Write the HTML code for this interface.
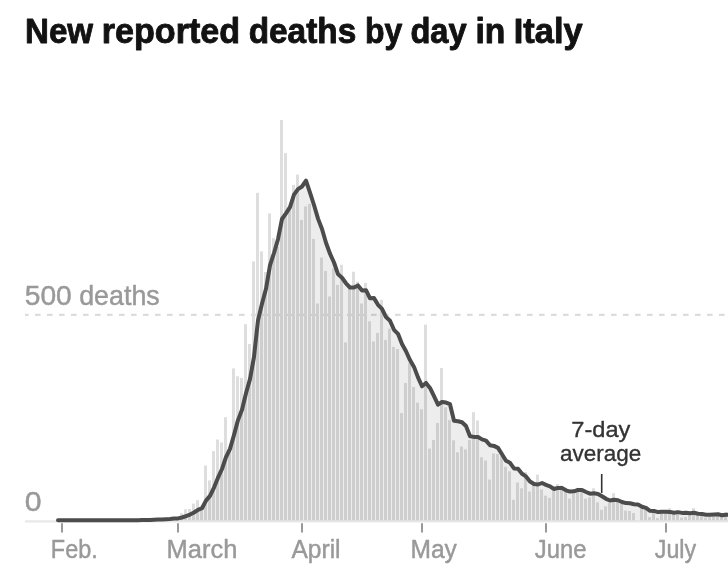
<!DOCTYPE html>
<html><head><meta charset="utf-8"><title>New reported deaths by day in Italy</title>
<style>
html,body{margin:0;padding:0;background:#fff;}
body{width:728px;height:582px;overflow:hidden;position:relative;}
svg{position:absolute;left:0;top:0;display:block;}
svg text{font-family:"Liberation Sans",Arial,sans-serif;white-space:pre;}
</style></head><body>
<svg width="728" height="582" viewBox="0 0 728 582">
<line x1="25" y1="521.4" x2="728" y2="521.4" stroke="#e8e8e8" stroke-width="2.2"/>
<line x1="25" y1="314.8" x2="728" y2="314.8" stroke="#dcdcdc" stroke-width="2.2" stroke-dasharray="5.6 6.4" stroke-dashoffset="2"/>
<g fill="#dedede">
<rect x="140.0" y="520.1" width="3" height="0.4"/>
<rect x="144.0" y="520.1" width="3" height="0.4"/>
<rect x="148.0" y="520.1" width="3" height="0.4"/>
<rect x="152.0" y="518.8" width="3" height="1.7"/>
<rect x="156.0" y="519.3" width="3" height="1.2"/>
<rect x="160.0" y="519.7" width="3" height="0.8"/>
<rect x="164.0" y="518.4" width="3" height="2.1"/>
<rect x="168.0" y="518.8" width="3" height="1.7"/>
<rect x="172.0" y="517.2" width="3" height="3.3"/>
<rect x="176.0" y="518.4" width="3" height="2.1"/>
<rect x="180.0" y="513.1" width="3" height="7.4"/>
<rect x="184.0" y="509.3" width="3" height="11.2"/>
<rect x="188.0" y="508.9" width="3" height="11.6"/>
<rect x="192.0" y="503.6" width="3" height="16.9"/>
<rect x="196.0" y="500.2" width="3" height="20.3"/>
<rect x="200.0" y="505.6" width="3" height="14.9"/>
<rect x="204.0" y="465.5" width="3" height="55.0"/>
<rect x="208.0" y="480.4" width="3" height="40.1"/>
<rect x="212.0" y="451.1" width="3" height="69.4"/>
<rect x="216.0" y="439.5" width="3" height="81.0"/>
<rect x="220.0" y="442.4" width="3" height="78.1"/>
<rect x="224.0" y="417.2" width="3" height="103.3"/>
<rect x="228.0" y="448.2" width="3" height="72.3"/>
<rect x="232.0" y="368.4" width="3" height="152.1"/>
<rect x="236.0" y="376.3" width="3" height="144.2"/>
<rect x="240.0" y="377.9" width="3" height="142.6"/>
<rect x="244.0" y="324.2" width="3" height="196.3"/>
<rect x="248.0" y="344.0" width="3" height="176.5"/>
<rect x="252.0" y="261.4" width="3" height="259.1"/>
<rect x="256.0" y="192.8" width="3" height="327.7"/>
<rect x="260.0" y="251.4" width="3" height="269.1"/>
<rect x="264.0" y="272.1" width="3" height="248.4"/>
<rect x="268.0" y="213.4" width="3" height="307.1"/>
<rect x="272.0" y="238.2" width="3" height="282.3"/>
<rect x="276.0" y="246.9" width="3" height="273.6"/>
<rect x="280.0" y="120.0" width="3" height="400.5"/>
<rect x="284.0" y="153.1" width="3" height="367.4"/>
<rect x="288.0" y="208.0" width="3" height="312.5"/>
<rect x="292.0" y="184.9" width="3" height="335.6"/>
<rect x="296.0" y="174.6" width="3" height="345.9"/>
<rect x="300.0" y="220.0" width="3" height="300.5"/>
<rect x="304.0" y="206.4" width="3" height="314.1"/>
<rect x="308.0" y="203.9" width="3" height="316.6"/>
<rect x="312.0" y="239.0" width="3" height="281.5"/>
<rect x="316.0" y="303.5" width="3" height="217.0"/>
<rect x="320.0" y="257.6" width="3" height="262.9"/>
<rect x="324.0" y="270.9" width="3" height="249.6"/>
<rect x="328.0" y="296.5" width="3" height="224.0"/>
<rect x="332.0" y="268.4" width="3" height="252.1"/>
<rect x="336.0" y="284.9" width="3" height="235.6"/>
<rect x="340.0" y="264.7" width="3" height="255.8"/>
<rect x="344.0" y="342.4" width="3" height="178.1"/>
<rect x="348.0" y="286.6" width="3" height="233.9"/>
<rect x="352.0" y="271.7" width="3" height="248.8"/>
<rect x="356.0" y="281.6" width="3" height="238.9"/>
<rect x="360.0" y="303.5" width="3" height="217.0"/>
<rect x="364.0" y="282.9" width="3" height="237.6"/>
<rect x="368.0" y="321.3" width="3" height="199.2"/>
<rect x="372.0" y="341.5" width="3" height="179.0"/>
<rect x="376.0" y="332.9" width="3" height="187.6"/>
<rect x="380.0" y="299.8" width="3" height="220.7"/>
<rect x="384.0" y="339.9" width="3" height="180.6"/>
<rect x="388.0" y="328.7" width="3" height="191.8"/>
<rect x="392.0" y="346.9" width="3" height="173.6"/>
<rect x="396.0" y="349.0" width="3" height="171.5"/>
<rect x="400.0" y="413.0" width="3" height="107.5"/>
<rect x="404.0" y="382.9" width="3" height="137.6"/>
<rect x="408.0" y="362.6" width="3" height="157.9"/>
<rect x="412.0" y="387.0" width="3" height="133.5"/>
<rect x="416.0" y="402.7" width="3" height="117.8"/>
<rect x="420.0" y="409.3" width="3" height="111.2"/>
<rect x="424.0" y="324.6" width="3" height="195.9"/>
<rect x="428.0" y="448.6" width="3" height="71.9"/>
<rect x="432.0" y="439.9" width="3" height="80.6"/>
<rect x="436.0" y="423.0" width="3" height="97.5"/>
<rect x="440.0" y="368.0" width="3" height="152.5"/>
<rect x="444.0" y="407.3" width="3" height="113.2"/>
<rect x="448.0" y="420.1" width="3" height="100.4"/>
<rect x="452.0" y="440.3" width="3" height="80.2"/>
<rect x="456.0" y="452.3" width="3" height="68.2"/>
<rect x="460.0" y="446.5" width="3" height="74.0"/>
<rect x="464.0" y="449.4" width="3" height="71.1"/>
<rect x="468.0" y="439.9" width="3" height="80.6"/>
<rect x="472.0" y="412.2" width="3" height="108.3"/>
<rect x="476.0" y="420.5" width="3" height="100.0"/>
<rect x="480.0" y="457.3" width="3" height="63.2"/>
<rect x="484.0" y="460.6" width="3" height="59.9"/>
<rect x="488.0" y="479.6" width="3" height="40.9"/>
<rect x="492.0" y="453.5" width="3" height="67.0"/>
<rect x="496.0" y="454.0" width="3" height="66.5"/>
<rect x="500.0" y="456.0" width="3" height="64.5"/>
<rect x="504.0" y="466.8" width="3" height="53.7"/>
<rect x="508.0" y="471.3" width="3" height="49.2"/>
<rect x="512.0" y="499.8" width="3" height="20.7"/>
<rect x="516.0" y="482.5" width="3" height="38.0"/>
<rect x="520.0" y="488.3" width="3" height="32.2"/>
<rect x="524.0" y="472.1" width="3" height="48.4"/>
<rect x="528.0" y="491.6" width="3" height="28.9"/>
<rect x="532.0" y="484.5" width="3" height="36.0"/>
<rect x="536.0" y="474.6" width="3" height="45.9"/>
<rect x="540.0" y="489.5" width="3" height="31.0"/>
<rect x="544.0" y="495.7" width="3" height="24.8"/>
<rect x="548.0" y="497.8" width="3" height="22.7"/>
<rect x="552.0" y="491.2" width="3" height="29.3"/>
<rect x="556.0" y="484.1" width="3" height="36.4"/>
<rect x="560.0" y="485.4" width="3" height="35.1"/>
<rect x="564.0" y="490.7" width="3" height="29.8"/>
<rect x="568.0" y="498.6" width="3" height="21.9"/>
<rect x="572.0" y="493.6" width="3" height="26.9"/>
<rect x="576.0" y="487.8" width="3" height="32.7"/>
<rect x="580.0" y="491.2" width="3" height="29.3"/>
<rect x="584.0" y="498.6" width="3" height="21.9"/>
<rect x="588.0" y="497.4" width="3" height="23.1"/>
<rect x="592.0" y="488.3" width="3" height="32.2"/>
<rect x="596.0" y="502.3" width="3" height="18.2"/>
<rect x="600.0" y="509.8" width="3" height="10.7"/>
<rect x="604.0" y="506.4" width="3" height="14.1"/>
<rect x="608.0" y="502.7" width="3" height="17.8"/>
<rect x="612.0" y="493.2" width="3" height="27.3"/>
<rect x="616.0" y="501.1" width="3" height="19.4"/>
<rect x="620.0" y="500.2" width="3" height="20.3"/>
<rect x="624.0" y="510.6" width="3" height="9.9"/>
<rect x="628.0" y="511.0" width="3" height="9.5"/>
<rect x="632.0" y="513.1" width="3" height="7.4"/>
<rect x="640.0" y="506.4" width="3" height="14.1"/>
<rect x="644.0" y="508.1" width="3" height="12.4"/>
<rect x="648.0" y="517.2" width="3" height="3.3"/>
<rect x="652.0" y="511.4" width="3" height="9.1"/>
<rect x="656.0" y="518.0" width="3" height="2.5"/>
<rect x="660.0" y="511.0" width="3" height="9.5"/>
<rect x="664.0" y="511.8" width="3" height="8.7"/>
<rect x="668.0" y="508.1" width="3" height="12.4"/>
<rect x="672.0" y="514.3" width="3" height="6.2"/>
<rect x="676.0" y="511.8" width="3" height="8.7"/>
<rect x="680.0" y="517.6" width="3" height="2.9"/>
<rect x="684.0" y="517.2" width="3" height="3.3"/>
<rect x="688.0" y="514.3" width="3" height="6.2"/>
<rect x="692.0" y="508.1" width="3" height="12.4"/>
<rect x="696.0" y="515.5" width="3" height="5.0"/>
<rect x="700.0" y="515.5" width="3" height="5.0"/>
<rect x="704.0" y="517.6" width="3" height="2.9"/>
<rect x="708.0" y="516.8" width="3" height="3.7"/>
<rect x="712.0" y="515.1" width="3" height="5.4"/>
<rect x="716.0" y="513.5" width="3" height="7.0"/>
<rect x="720.0" y="515.1" width="3" height="5.4"/>
<rect x="724.0" y="512.2" width="3" height="8.3"/>
<rect x="728.0" y="516.0" width="3" height="4.5"/>
</g>
<path d="M58.0 520.2 L62.0 520.2 L66.0 520.2 L70.0 520.2 L74.0 520.2 L78.0 520.2 L82.0 520.2 L86.0 520.2 L90.0 520.2 L94.0 520.2 L98.0 520.2 L102.0 520.2 L106.0 520.2 L110.0 520.2 L114.0 520.2 L118.0 520.2 L122.0 520.2 L126.0 520.2 L130.0 520.2 L134.0 520.2 L138.0 520.2 L142.0 520.1 L146.0 520.1 L150.0 520.0 L154.0 519.8 L158.0 519.6 L162.0 519.5 L166.0 519.2 L170.0 519.0 L174.0 518.6 L178.0 518.4 L182.0 517.5 L186.0 516.1 L190.0 514.6 L194.0 512.5 L198.0 509.8 L202.0 508.2 L206.0 500.6 L210.0 495.9 L214.0 487.6 L218.0 477.7 L222.0 469.0 L226.0 457.1 L230.0 448.9 L234.0 435.0 L238.0 420.1 L242.0 409.7 L246.0 393.2 L250.0 379.1 L254.0 356.9 L258.0 320.4 L262.0 303.7 L266.0 288.8 L270.0 265.3 L274.0 253.0 L278.0 239.2 L282.0 219.0 L286.0 213.3 L290.0 207.1 L294.0 194.6 L298.0 189.1 L302.0 186.5 L306.0 180.7 L310.0 192.7 L314.0 205.0 L318.0 218.6 L322.0 229.0 L326.0 242.8 L330.0 253.7 L334.0 262.5 L338.0 274.1 L342.0 277.8 L346.0 283.3 L350.0 287.5 L354.0 287.6 L358.0 285.4 L362.0 290.5 L366.0 290.2 L370.0 298.3 L374.0 298.1 L378.0 304.8 L382.0 308.8 L386.0 317.1 L390.0 320.7 L394.0 329.8 L398.0 333.8 L402.0 344.0 L406.0 351.2 L410.0 360.1 L414.0 366.9 L418.0 377.4 L422.0 386.3 L426.0 382.9 L430.0 387.9 L434.0 396.1 L438.0 404.7 L442.0 402.0 L446.0 402.6 L450.0 404.2 L454.0 420.7 L458.0 421.2 L462.0 422.2 L466.0 426.0 L470.0 436.2 L474.0 436.9 L478.0 437.0 L482.0 439.4 L486.0 440.6 L490.0 445.3 L494.0 445.9 L498.0 447.9 L502.0 454.2 L506.0 460.8 L510.0 462.8 L514.0 468.4 L518.0 468.8 L522.0 473.8 L526.0 476.4 L530.0 481.5 L534.0 484.0 L538.0 484.5 L542.0 483.0 L546.0 484.9 L550.0 486.3 L554.0 489.0 L558.0 487.9 L562.0 488.0 L566.0 490.3 L570.0 491.6 L574.0 491.3 L578.0 489.9 L582.0 489.9 L586.0 492.0 L590.0 493.7 L594.0 493.3 L598.0 493.9 L602.0 496.2 L606.0 498.8 L610.0 500.5 L614.0 499.7 L618.0 500.2 L622.0 502.0 L626.0 503.1 L630.0 503.3 L634.0 504.3 L638.0 504.6 L642.0 506.8 L646.0 507.9 L650.0 510.8 L654.0 510.9 L658.0 512.1 L662.0 511.7 L666.0 511.7 L670.0 511.9 L674.0 512.8 L678.0 512.1 L682.0 512.9 L686.0 512.8 L690.0 513.3 L694.0 512.8 L698.0 513.8 L702.0 514.0 L706.0 514.8 L710.0 514.7 L714.0 514.4 L718.0 514.3 L722.0 515.3 L726.0 514.8 L730.0 514.9 L734.0 514.5 L734.0 520.5 L58.0 520.5 Z" fill="#000" fill-opacity="0.07"/>
<path d="M58.0 520.2 L62.0 520.2 L66.0 520.2 L70.0 520.2 L74.0 520.2 L78.0 520.2 L82.0 520.2 L86.0 520.2 L90.0 520.2 L94.0 520.2 L98.0 520.2 L102.0 520.2 L106.0 520.2 L110.0 520.2 L114.0 520.2 L118.0 520.2 L122.0 520.2 L126.0 520.2 L130.0 520.2 L134.0 520.2 L138.0 520.2 L142.0 520.1 L146.0 520.1 L150.0 520.0 L154.0 519.8 L158.0 519.6 L162.0 519.5 L166.0 519.2 L170.0 519.0 L174.0 518.6 L178.0 518.4 L182.0 517.5 L186.0 516.1 L190.0 514.6 L194.0 512.5 L198.0 509.8 L202.0 508.2 L206.0 500.6 L210.0 495.9 L214.0 487.6 L218.0 477.7 L222.0 469.0 L226.0 457.1 L230.0 448.9 L234.0 435.0 L238.0 420.1 L242.0 409.7 L246.0 393.2 L250.0 379.1 L254.0 356.9 L258.0 320.4 L262.0 303.7 L266.0 288.8 L270.0 265.3 L274.0 253.0 L278.0 239.2 L282.0 219.0 L286.0 213.3 L290.0 207.1 L294.0 194.6 L298.0 189.1 L302.0 186.5 L306.0 180.7 L310.0 192.7 L314.0 205.0 L318.0 218.6 L322.0 229.0 L326.0 242.8 L330.0 253.7 L334.0 262.5 L338.0 274.1 L342.0 277.8 L346.0 283.3 L350.0 287.5 L354.0 287.6 L358.0 285.4 L362.0 290.5 L366.0 290.2 L370.0 298.3 L374.0 298.1 L378.0 304.8 L382.0 308.8 L386.0 317.1 L390.0 320.7 L394.0 329.8 L398.0 333.8 L402.0 344.0 L406.0 351.2 L410.0 360.1 L414.0 366.9 L418.0 377.4 L422.0 386.3 L426.0 382.9 L430.0 387.9 L434.0 396.1 L438.0 404.7 L442.0 402.0 L446.0 402.6 L450.0 404.2 L454.0 420.7 L458.0 421.2 L462.0 422.2 L466.0 426.0 L470.0 436.2 L474.0 436.9 L478.0 437.0 L482.0 439.4 L486.0 440.6 L490.0 445.3 L494.0 445.9 L498.0 447.9 L502.0 454.2 L506.0 460.8 L510.0 462.8 L514.0 468.4 L518.0 468.8 L522.0 473.8 L526.0 476.4 L530.0 481.5 L534.0 484.0 L538.0 484.5 L542.0 483.0 L546.0 484.9 L550.0 486.3 L554.0 489.0 L558.0 487.9 L562.0 488.0 L566.0 490.3 L570.0 491.6 L574.0 491.3 L578.0 489.9 L582.0 489.9 L586.0 492.0 L590.0 493.7 L594.0 493.3 L598.0 493.9 L602.0 496.2 L606.0 498.8 L610.0 500.5 L614.0 499.7 L618.0 500.2 L622.0 502.0 L626.0 503.1 L630.0 503.3 L634.0 504.3 L638.0 504.6 L642.0 506.8 L646.0 507.9 L650.0 510.8 L654.0 510.9 L658.0 512.1 L662.0 511.7 L666.0 511.7 L670.0 511.9 L674.0 512.8 L678.0 512.1 L682.0 512.9 L686.0 512.8 L690.0 513.3 L694.0 512.8 L698.0 513.8 L702.0 514.0 L706.0 514.8 L710.0 514.7 L714.0 514.4 L718.0 514.3 L722.0 515.3 L726.0 514.8 L730.0 514.9 L734.0 514.5" fill="none" stroke="#4c4c4c" stroke-width="4" stroke-linejoin="round" stroke-linecap="round"/>
<line x1="62.0" y1="523.3" x2="62.0" y2="532.5" stroke="#999" stroke-width="2"/>
<line x1="178.0" y1="523.3" x2="178.0" y2="532.5" stroke="#999" stroke-width="2"/>
<line x1="302.0" y1="523.3" x2="302.0" y2="532.5" stroke="#999" stroke-width="2"/>
<line x1="422.0" y1="523.3" x2="422.0" y2="532.5" stroke="#999" stroke-width="2"/>
<line x1="546.0" y1="523.3" x2="546.0" y2="532.5" stroke="#999" stroke-width="2"/>
<line x1="666.0" y1="523.3" x2="666.0" y2="532.5" stroke="#999" stroke-width="2"/>

<line x1="601.7" y1="474" x2="601.7" y2="493" stroke="#333" stroke-width="1.6"/>
<text transform="translate(25.04 42.6) scale(0.9278 1)" font-size="35.7" font-weight="700" fill="#121212" stroke="#121212" stroke-width="0.9" stroke-linejoin="round">New</text>
<text transform="translate(101.79 42.6) scale(0.9556 1)" font-size="35.7" font-weight="700" fill="#121212" stroke="#121212" stroke-width="0.9" stroke-linejoin="round">reported</text>
<text transform="translate(248.67 42.6) scale(0.9345 1)" font-size="35.7" font-weight="700" fill="#121212" stroke="#121212" stroke-width="0.9" stroke-linejoin="round">deaths</text>
<text transform="translate(365.01 42.6) scale(0.8950 1)" font-size="35.7" font-weight="700" fill="#121212" stroke="#121212" stroke-width="0.9" stroke-linejoin="round">by</text>
<text transform="translate(410.38 42.6) scale(0.9152 1)" font-size="35.7" font-weight="700" fill="#121212" stroke="#121212" stroke-width="0.9" stroke-linejoin="round">day</text>
<text transform="translate(475.51 42.6) scale(0.9429 1)" font-size="35.7" font-weight="700" fill="#121212" stroke="#121212" stroke-width="0.9" stroke-linejoin="round">in</text>
<text transform="translate(513.77 42.6) scale(0.9634 1)" font-size="35.7" font-weight="700" fill="#121212" stroke="#121212" stroke-width="0.9" stroke-linejoin="round">Italy</text>
<text transform="translate(24.76 304.5) scale(1.0368 1)" font-size="27.2" font-weight="400" fill="#999" stroke="#999" stroke-width="0.45" stroke-linejoin="round">500</text>
<text transform="translate(79.21 304.5) scale(0.9862 1)" font-size="27.2" font-weight="400" fill="#999" stroke="#999" stroke-width="0.45" stroke-linejoin="round">deaths</text>
<text transform="translate(24.67 510.7) scale(1.1111 1)" font-size="27.2" font-weight="400" fill="#999" stroke="#999" stroke-width="0.45" stroke-linejoin="round">0</text>
<text transform="translate(50.86 558.3) scale(0.9362 1)" font-size="25.0" font-weight="400" fill="#999" stroke="#999" stroke-width="0.45" stroke-linejoin="round">Feb.</text>
<text transform="translate(166.62 558.3) scale(1.0189 1)" font-size="25.0" font-weight="400" fill="#999" stroke="#999" stroke-width="0.45" stroke-linejoin="round">March</text>
<text transform="translate(291.45 558.3) scale(0.9826 1)" font-size="25.0" font-weight="400" fill="#999" stroke="#999" stroke-width="0.45" stroke-linejoin="round">April</text>
<text transform="translate(410.48 558.3) scale(0.9836 1)" font-size="25.0" font-weight="400" fill="#999" stroke="#999" stroke-width="0.45" stroke-linejoin="round">May</text>
<text transform="translate(534.86 558.3) scale(0.9528 1)" font-size="25.0" font-weight="400" fill="#999" stroke="#999" stroke-width="0.45" stroke-linejoin="round">June</text>
<text transform="translate(654.77 558.3) scale(0.9311 1)" font-size="25.0" font-weight="400" fill="#999" stroke="#999" stroke-width="0.45" stroke-linejoin="round">July</text>
<text transform="translate(571.36 437.3) scale(1.0357 1)" font-size="22.8" font-weight="400" fill="#333" stroke="#333" stroke-width="0.35" stroke-linejoin="round">7-day</text>
<text transform="translate(560.06 460.8) scale(0.9858 1)" font-size="22.8" font-weight="400" fill="#333" stroke="#333" stroke-width="0.35" stroke-linejoin="round">average</text>

</svg>
</body></html>
